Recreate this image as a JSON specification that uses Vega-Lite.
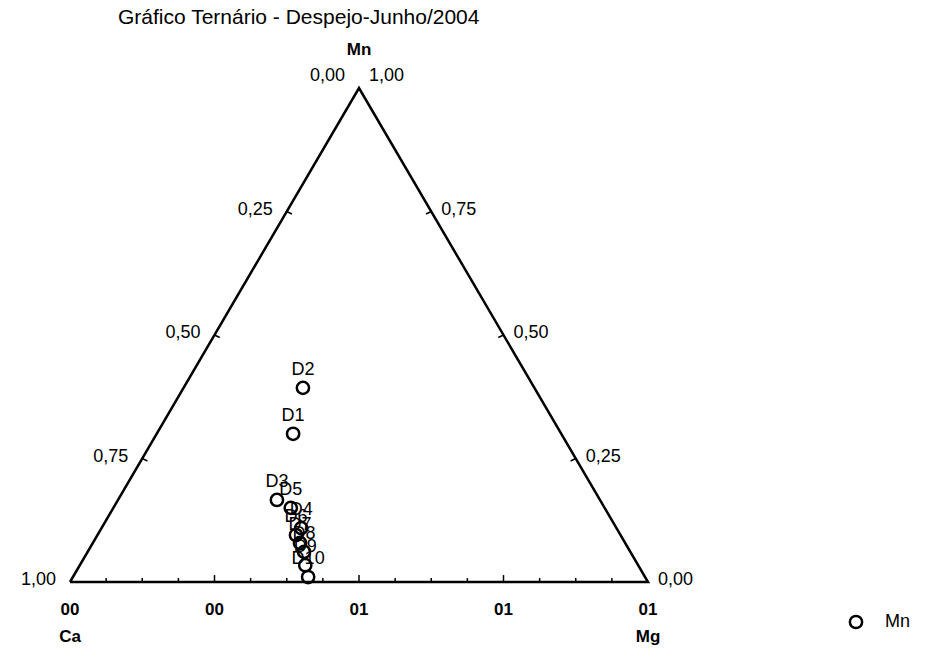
{
  "$schema": "https://vega.github.io/schema/vega-lite/v6.json",
  "width": 578,
  "height": 494,
  "autosize": {"type": "none"},
  "padding": {"left": 70, "top": 88, "right": 280, "bottom": 79},
  "background": "white",
  "config": {
    "view": {"stroke": null},
    "font": "Liberation Sans",
    "text": {"font": "Liberation Sans", "fontSize": 18, "color": "black"},
    "legend": {"labelFont": "Liberation Sans", "labelFontSize": 18, "labelColor": "black"}
  },
  "title": {
    "text": "Gráfico Ternário  - Despejo-Junho/2004",
    "anchor": "start",
    "frame": "group",
    "dx": 48,
    "offset": 13,
    "fontSize": 21,
    "fontWeight": "normal",
    "font": "Liberation Sans",
    "color": "black"
  },
  "layer": [
    {
      "data": {"values": [
        {"x": 0, "y": 0, "o": 1},
        {"x": 1, "y": 0, "o": 2},
        {"x": 0.5, "y": 1, "o": 3},
        {"x": 0, "y": 0, "o": 4}
      ]},
      "mark": {"type": "line", "color": "black", "strokeWidth": 2.5, "strokeJoin": "miter"},
      "encoding": {
        "x": {"field": "x", "type": "quantitative", "scale": {"domain": [0, 1], "nice": false, "zero": false}, "axis": null},
        "y": {"field": "y", "type": "quantitative", "scale": {"domain": [0, 1], "nice": false, "zero": false}, "axis": null},
        "order": {"field": "o"}
      }
    },
    {
      "data": {"values": [
        {"x": 0.0625, "y": 0, "x2": 0.0625, "y2": 0.008},
        {"x": 0.125, "y": 0, "x2": 0.125, "y2": 0.008},
        {"x": 0.1875, "y": 0, "x2": 0.1875, "y2": 0.008},
        {"x": 0.25, "y": 0, "x2": 0.25, "y2": 0.014},
        {"x": 0.3125, "y": 0, "x2": 0.3125, "y2": 0.008},
        {"x": 0.375, "y": 0, "x2": 0.375, "y2": 0.008},
        {"x": 0.4375, "y": 0, "x2": 0.4375, "y2": 0.008},
        {"x": 0.5, "y": 0, "x2": 0.5, "y2": 0.014},
        {"x": 0.5625, "y": 0, "x2": 0.5625, "y2": 0.008},
        {"x": 0.625, "y": 0, "x2": 0.625, "y2": 0.008},
        {"x": 0.6875, "y": 0, "x2": 0.6875, "y2": 0.008},
        {"x": 0.75, "y": 0, "x2": 0.75, "y2": 0.014},
        {"x": 0.8125, "y": 0, "x2": 0.8125, "y2": 0.008},
        {"x": 0.875, "y": 0, "x2": 0.875, "y2": 0.008},
        {"x": 0.9375, "y": 0, "x2": 0.9375, "y2": 0.008},
        {"x": 0.125, "y": 0.25, "x2": 0.134, "y2": 0.245},
        {"x": 0.25, "y": 0.5, "x2": 0.259, "y2": 0.495},
        {"x": 0.375, "y": 0.75, "x2": 0.384, "y2": 0.745},
        {"x": 0.875, "y": 0.25, "x2": 0.866, "y2": 0.245},
        {"x": 0.75, "y": 0.5, "x2": 0.741, "y2": 0.495},
        {"x": 0.625, "y": 0.75, "x2": 0.616, "y2": 0.745}
      ]},
      "mark": {"type": "rule", "color": "black", "strokeWidth": 1.5},
      "encoding": {
        "x": {"field": "x", "type": "quantitative"},
        "y": {"field": "y", "type": "quantitative"},
        "x2": {"field": "x2"},
        "y2": {"field": "y2"}
      }
    },
    {
      "data": {"values": [
        {"lab": "D1", "x": 0.386, "y": 0.300, "s": "Mn"},
        {"lab": "D2", "x": 0.403, "y": 0.393, "s": "Mn"},
        {"lab": "D3", "x": 0.358, "y": 0.166, "s": "Mn"},
        {"lab": "D4", "x": 0.400, "y": 0.109, "s": "Mn"},
        {"lab": "D5", "x": 0.382, "y": 0.150, "s": "Mn"},
        {"lab": "D6", "x": 0.391, "y": 0.095, "s": "Mn"},
        {"lab": "D7", "x": 0.398, "y": 0.079, "s": "Mn"},
        {"lab": "D8", "x": 0.405, "y": 0.061, "s": "Mn"},
        {"lab": "D9", "x": 0.407, "y": 0.034, "s": "Mn"},
        {"lab": "D10", "x": 0.412, "y": 0.010, "s": "Mn"}
      ]},
      "layer": [
        {
          "mark": {"type": "point", "filled": false, "color": "black", "strokeWidth": 2.5, "size": 150, "opacity": 1},
          "encoding": {
            "x": {"field": "x", "type": "quantitative"},
            "y": {"field": "y", "type": "quantitative"},
            "shape": {"field": "s", "type": "nominal", "scale": {"range": ["circle"]},
              "legend": {"title": null, "orient": "none", "legendX": 777, "legendY": 525, "symbolSize": 150, "symbolStrokeWidth": 2.5, "symbolStrokeColor": "black", "labelOffset": 20}}
          }
        },
        {
          "mark": {"type": "text", "dy": -18, "fontSize": 18},
          "encoding": {
            "x": {"field": "x", "type": "quantitative"},
            "y": {"field": "y", "type": "quantitative"},
            "text": {"field": "lab"}
          }
        }
      ]
    },
    {
      "data": {"values": [
        {"t": "0,25", "x": 0.375, "y": 0.75},
        {"t": "0,50", "x": 0.25, "y": 0.5},
        {"t": "0,75", "x": 0.125, "y": 0.25},
        {"t": "1,00", "x": 0, "y": 0},
        {"t": "0,00", "x": 0.5, "y": 1.02}
      ]},
      "mark": {"type": "text", "align": "right", "baseline": "middle", "dx": -14, "dy": -2},
      "encoding": {
        "x": {"field": "x", "type": "quantitative"},
        "y": {"field": "y", "type": "quantitative"},
        "text": {"field": "t"}
      }
    },
    {
      "data": {"values": [
        {"t": "0,75", "x": 0.625, "y": 0.75},
        {"t": "0,50", "x": 0.75, "y": 0.5},
        {"t": "0,25", "x": 0.875, "y": 0.25},
        {"t": "0,00", "x": 1, "y": 0},
        {"t": "1,00", "x": 0.5, "y": 1.02}
      ]},
      "mark": {"type": "text", "align": "left", "baseline": "middle", "dx": 10, "dy": -2},
      "encoding": {
        "x": {"field": "x", "type": "quantitative"},
        "y": {"field": "y", "type": "quantitative"},
        "text": {"field": "t"}
      }
    },
    {
      "data": {"values": [
        {"t": "00", "x": 0},
        {"t": "00", "x": 0.25},
        {"t": "01", "x": 0.5},
        {"t": "01", "x": 0.75},
        {"t": "01", "x": 1}
      ]},
      "mark": {"type": "text", "align": "center", "baseline": "middle", "dy": 28, "fontWeight": "bold", "fontSize": 17},
      "encoding": {
        "x": {"field": "x", "type": "quantitative"},
        "y": {"datum": 0, "type": "quantitative"},
        "text": {"field": "t"}
      }
    },
    {
      "data": {"values": [
        {"t": "Ca", "x": 0, "y": 0},
        {"t": "Mg", "x": 1, "y": 0}
      ]},
      "mark": {"type": "text", "align": "center", "baseline": "middle", "dy": 55, "fontWeight": "bold", "fontSize": 17},
      "encoding": {
        "x": {"field": "x", "type": "quantitative"},
        "y": {"field": "y", "type": "quantitative"},
        "text": {"field": "t"}
      }
    },
    {
      "data": {"values": [{"t": "Mn", "x": 0.5, "y": 1}]},
      "mark": {"type": "text", "align": "center", "baseline": "middle", "dy": -38, "fontWeight": "bold", "fontSize": 17},
      "encoding": {
        "x": {"field": "x", "type": "quantitative"},
        "y": {"field": "y", "type": "quantitative"},
        "text": {"field": "t"}
      }
    }
  ]
}
